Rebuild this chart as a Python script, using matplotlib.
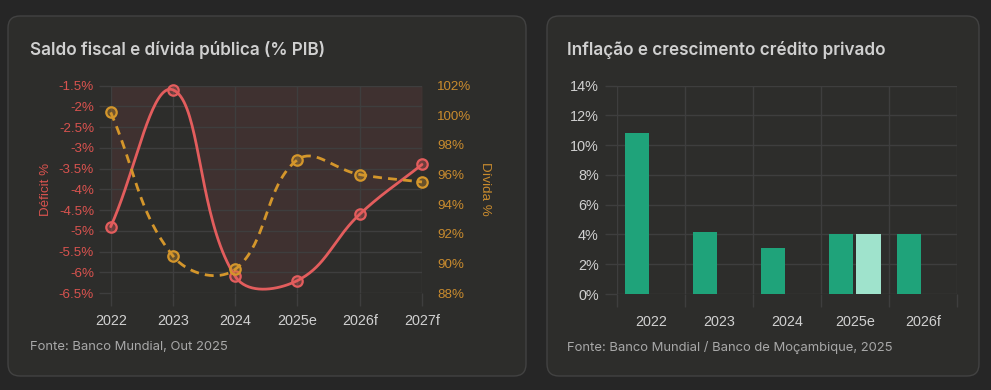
import numpy as np
import matplotlib
matplotlib.use("Agg")
import matplotlib.pyplot as plt
from matplotlib.patches import FancyBboxPatch
from matplotlib.transforms import IdentityTransform
from matplotlib.ticker import FuncFormatter, FixedLocator

# ---------------- data ----------------
years_left = ["2022", "2023", "2024", "2025e", "2026f", "2027f"]
deficit = [-4.9, -1.6, -6.1, -6.2, -4.6, -3.4]
divida = [100.2, 90.5, 89.6, 97.0, 96.0, 95.5]

years_right = ["2022", "2023", "2024", "2025e", "2026f"]
inflacao = [10.8, 4.2, 3.1, 4.0, 4.0]
credito = [np.nan, np.nan, np.nan, 4.0, np.nan]

# ---------------- style ----------------
W, H = 991, 390
BG = "#262626"
CARD = "#2d2d2b"
BORDER = "#424242"
GRID = "#3e3e3e"
RED = "#e35d5d"
RED_TXT = "#d9534f"
ORANGE = "#d4962b"
ORANGE_TXT = "#c98b2e"
GREEN = "#1fa37a"
GREEN_LIGHT = "#9fe3cc"
TXT = "#d0d0d0"
SUB = "#a8a8a8"
TICKFONT = "Liberation Sans"
HEADFONT = "Inter"

fig = plt.figure(figsize=(W / 100, H / 100), dpi=100, facecolor=BG)

def card(x0, x1, ytop, ybot):
    p = FancyBboxPatch((x0, H - ybot), x1 - x0, ybot - ytop,
                       boxstyle="round,pad=0,rounding_size=12",
                       transform=IdentityTransform(), facecolor=CARD,
                       edgecolor=BORDER, linewidth=1.0, zorder=-5)
    fig.patches.append(p)

card(8, 526, 16, 376)
card(547, 979, 16, 376)

def axrect(x0, x1, ytop, ybot):
    return [x0 / W, (H - ybot) / H, (x1 - x0) / W, (ybot - ytop) / H]

# ---------------- left chart ----------------
ax = fig.add_axes(axrect(110.7, 422, 85.7, 293))
ax.set_facecolor("none")
ax2 = ax.twinx()
ax2.set_facecolor("none")

xl = np.arange(len(years_left))
ax.set_xlim(0, len(years_left) - 1)
ax.set_ylim(-6.5, -1.5)
ax2.set_ylim(88, 102)

for a in (ax, ax2):
    for s in a.spines.values():
        s.set_visible(False)

ax.set_yticks(np.arange(-6.5, -1.49, 0.5))
ax.yaxis.set_major_formatter(FuncFormatter(lambda v, p: f"{v:g}%"))
ax2.set_yticks(np.arange(88, 102.1, 2))
ax2.yaxis.set_major_formatter(FuncFormatter(lambda v, p: f"{v:g}%"))
ax.set_xticks(xl)
ax.set_xticklabels(years_left)

ax.grid(True, color=GRID, linewidth=1.0, zorder=0)
ax.tick_params(axis="y", colors=GRID, labelcolor=RED_TXT, length=9, width=1.0,
               labelsize=9.6, pad=3)
ax.tick_params(axis="x", colors=GRID, labelcolor=TXT, length=9, width=1.0,
               labelsize=10.4, pad=6)
ax2.tick_params(axis="y", length=0, labelcolor=ORANGE_TXT, labelsize=9.6, pad=11)
for lab in ax.get_yticklabels() + ax.get_xticklabels() + ax2.get_yticklabels():
    lab.set_fontfamily(TICKFONT)

ax.set_ylabel("Déficit %", color=RED_TXT, fontsize=9.6, fontfamily=TICKFONT, labelpad=5)
ax2.set_ylabel("Dívida %", color=ORANGE_TXT, fontsize=9.6, fontfamily=TICKFONT,
               rotation=270, labelpad=14)


def spline(axis, xs, ys, tension=0.4, n=40):
    """Chart.js-like cubic spline computed in pixel space."""
    pts = axis.transData.transform(np.column_stack([xs, ys]))
    m = len(pts)
    cps_prev, cps_next = [], []
    for i in range(m):
        p0 = pts[i - 1] if i > 0 else pts[i]
        p1 = pts[i]
        p2 = pts[i + 1] if i < m - 1 else pts[i]
        d01 = np.hypot(*(p1 - p0))
        d12 = np.hypot(*(p2 - p1))
        s01 = d01 / (d01 + d12) if d01 + d12 else 0
        s12 = d12 / (d01 + d12) if d01 + d12 else 0
        fa, fb = tension * s01, tension * s12
        cps_prev.append(p1 - fa * (p2 - p0))
        cps_next.append(p1 + fb * (p2 - p0))
    curve = []
    t = np.linspace(0, 1, n)[:, None]
    for i in range(m - 1):
        a, b, c, d = pts[i], cps_next[i], cps_prev[i + 1], pts[i + 1]
        seg = (1 - t) ** 3 * a + 3 * (1 - t) ** 2 * t * b + 3 * (1 - t) * t ** 2 * c + t ** 3 * d
        curve.append(seg if i == 0 else seg[1:])
    curve = np.vstack(curve)
    return axis.transData.inverted().transform(curve)

fig.canvas.draw()
rc = spline(ax, xl, deficit)
oc = spline(ax2, xl, divida)

ax.fill_between(rc[:, 0], rc[:, 1], -1.5, color=RED, alpha=0.10, linewidth=0, zorder=1)
ax.plot(rc[:, 0], rc[:, 1], color=RED, linewidth=2.0, zorder=3, solid_capstyle="round")
ax.plot(xl, deficit, linestyle="none", marker="o", markersize=7.5,
        markerfacecolor=(0.89, 0.36, 0.36, 0.35), markeredgecolor=RED,
        markeredgewidth=1.6, zorder=4)

ax2.plot(oc[:, 0], oc[:, 1], color=ORANGE, linewidth=2.0, linestyle=(0, (3.2, 2.2)), zorder=3)
ax2.plot(xl, divida, linestyle="none", marker="o", markersize=7.5,
         markerfacecolor=(0.83, 0.59, 0.17, 0.35), markeredgecolor=ORANGE,
         markeredgewidth=1.6, zorder=4)
for a in (ax, ax2):
    for art in a.lines + a.collections:
        art.set_clip_on(False)

fig.text(30 / W, 1 - 50 / H, "Saldo fiscal e dívida pública (% PIB)", color=TXT,
         fontsize=12.3, fontweight="semibold", fontfamily=HEADFONT, va="center", ha="left")
fig.text(30 / W, 1 - 347 / H, "Fonte: Banco Mundial, Out 2025", color=SUB,
         fontsize=9.4, fontfamily=HEADFONT, va="center", ha="left")

# ---------------- right chart ----------------
bx = fig.add_axes(axrect(616.7, 956.7, 85.7, 294))
bx.set_facecolor("none")
for s in bx.spines.values():
    s.set_visible(False)
xr = np.arange(len(years_right))
bx.set_xlim(-0.5, len(years_right) - 0.5)
bx.set_ylim(0, 14)
bw = 0.36
bx.bar(xr - 0.2, inflacao, width=bw, color=GREEN, zorder=3)
bx.bar(xr + 0.2, credito, width=bw, color=GREEN_LIGHT, zorder=3)

bx.set_yticks(np.arange(0, 14.1, 2))
bx.yaxis.set_major_formatter(FuncFormatter(lambda v, p: f"{v:g}%"))
bx.set_xticks(xr)
bx.set_xticklabels(years_right)
bx.xaxis.set_minor_locator(FixedLocator(np.arange(-0.5, len(years_right), 1.0)))
bx.grid(True, axis="y", which="major", color=GRID, linewidth=1.0, zorder=0)
bx.grid(True, axis="x", which="minor", color=GRID, linewidth=1.0, zorder=0)
bx.tick_params(axis="x", which="major", length=0, labelcolor=TXT, labelsize=10.4, pad=15)
bx.tick_params(axis="x", which="minor", length=9, color=GRID, width=1.0)
bx.tick_params(axis="y", colors=GRID, labelcolor=TXT, length=9, width=1.0,
               labelsize=10.4, pad=4)
for lab in bx.get_yticklabels() + bx.get_xticklabels():
    lab.set_fontfamily(TICKFONT)

fig.text(567 / W, 1 - 50 / H, "Inflação e crescimento crédito privado", color=TXT,
         fontsize=12.3, fontweight="semibold", fontfamily=HEADFONT, va="center", ha="left")
fig.text(567 / W, 1 - 347 / H, "Fonte: Banco Mundial / Banco de Moçambique, 2025", color=SUB,
         fontsize=9.4, fontfamily=HEADFONT, va="center", ha="left")

fig.savefig("out.png", dpi=100, facecolor=BG)
